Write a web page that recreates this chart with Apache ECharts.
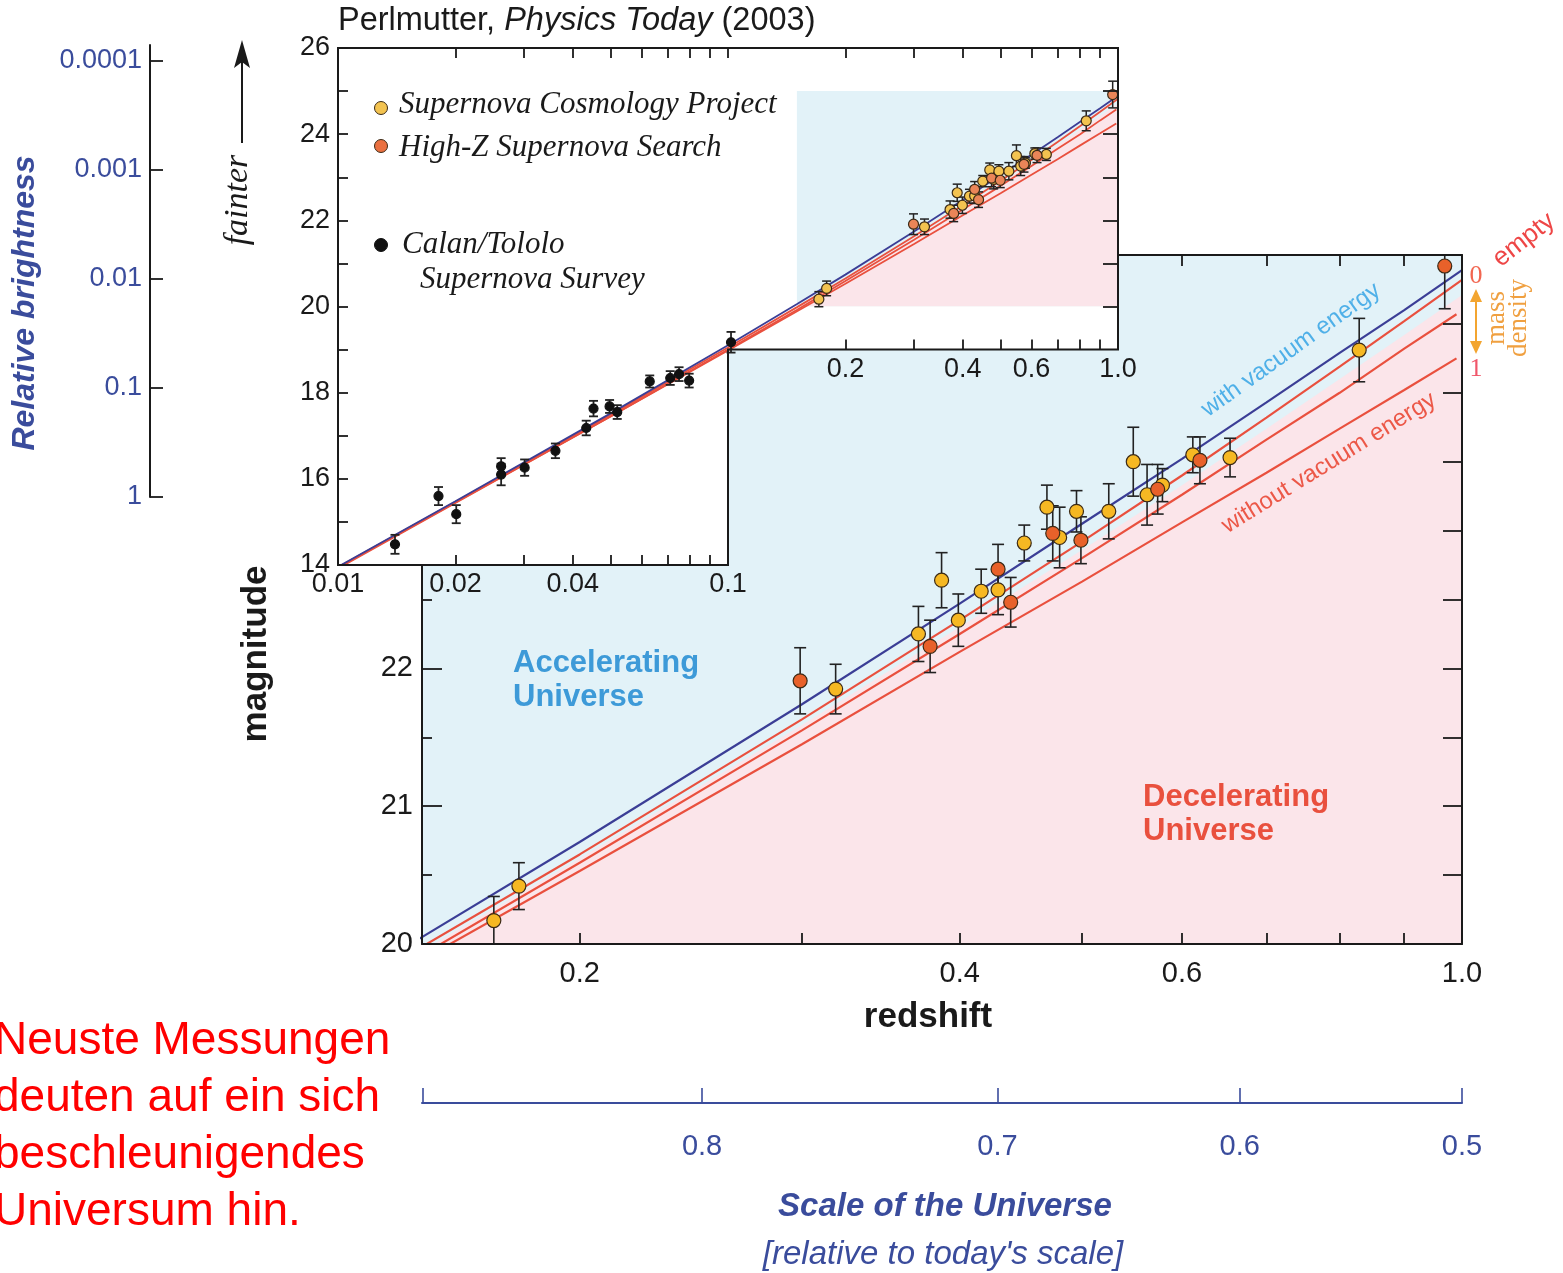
<!DOCTYPE html>
<html><head><meta charset="utf-8">
<script src="https://cdn.jsdelivr.net/npm/echarts@6/dist/echarts.min.js"></script>
<style>html,body{margin:0;padding:0;background:#fff}#c{width:1563px;height:1273px}</style>
</head><body><div id="c"></div>
<script>
// ---------------- data ----------------
const modelZ      = [0.01, 0.02, 0.05, 0.1, 0.15, 0.2, 0.3, 0.4, 0.5, 0.6, 0.7, 0.8, 0.9, 1.0];
const vacuumMag   = [13.96, 15.48, 17.52, 19.10, 20.05, 20.74, 21.74, 22.47, 23.05, 23.52, 23.93, 24.29, 24.60, 24.89];
const emptyMag    = [13.95, 15.47, 17.49, 19.05, 19.98, 20.65, 21.63, 22.35, 22.92, 23.40, 23.82, 24.19, 24.52, 24.82];
const massZ       = [0.01, 0.02, 0.05, 0.1, 0.15, 0.2, 0.3, 0.4, 0.5, 0.6, 0.7, 0.8, 0.9, 0.99];
const lowMassMag  = [13.92, 15.44, 17.45, 19.00, 19.92, 20.59, 21.55, 22.25, 22.80, 23.26, 23.66, 24.00, 24.32, 24.57];
const fullMassMag = [13.94, 15.45, 17.45, 18.98, 19.885, 20.53, 21.45, 22.12, 22.63, 23.06, 23.42, 23.74, 24.02, 24.25];
const boundaryZ   = [0.15, 0.2, 0.3, 0.4, 0.5, 0.6, 0.7, 0.8, 0.9, 1.0];
const boundaryMag = [19.95, 20.62, 21.59, 22.30, 22.86, 23.33, 23.74, 24.10, 24.42, 24.71];

const scpZ   = [0.171, 0.179, 0.319, 0.371, 0.387, 0.399, 0.416, 0.429, 0.450, 0.469, 0.480, 0.495, 0.525, 0.549, 0.563, 0.579, 0.612, 0.655, 0.829];
const scpMag = [20.17, 20.42, 21.85, 22.25, 22.64, 22.35, 22.56, 22.57, 22.91, 23.17, 22.95, 23.14, 23.14, 23.50, 23.26, 23.33, 23.55, 23.53, 24.31];
const scpErr = [0.175, 0.17, 0.18, 0.20, 0.20, 0.19, 0.16, 0.18, 0.13, 0.16, 0.22, 0.15, 0.20, 0.25, 0.22, 0.12, 0.13, 0.14, 0.23];
const hzZ    = [0.299, 0.379, 0.429, 0.439, 0.474, 0.499, 0.574, 0.620, 0.969];
const hzMag  = [21.91, 22.16, 22.72, 22.48, 22.98, 22.93, 23.30, 23.51, 24.92];
const hzErr  = [0.24, 0.19, 0.18, 0.18, 0.20, 0.17, 0.18, 0.17, 0.31];
const ctZ    = [0.0140, 0.0181, 0.0201, 0.0262, 0.0262, 0.0301, 0.0361, 0.0433, 0.0452, 0.0497, 0.0520, 0.0630, 0.0711, 0.0749, 0.0795, 0.1018];
const ctMag  = [14.48, 15.60, 15.18, 16.29, 16.10, 16.26, 16.65, 17.18, 17.63, 17.68, 17.55, 18.26, 18.34, 18.43, 18.28, 19.17];
const ctErr  = [0.22, 0.21, 0.21, 0.19, 0.25, 0.19, 0.17, 0.17, 0.18, 0.15, 0.16, 0.14, 0.16, 0.16, 0.16, 0.24];

const mainZTicks      = [0.2, 0.3, 0.4, 0.5, 0.6, 0.7, 0.8, 0.9, 1.0];
const mainZLabels     = ['0.2', '0.4', '0.6', '1.0'];
const insetLowTicks   = [0.02, 0.03, 0.04, 0.05, 0.06, 0.07, 0.08, 0.09];
const insetLowLabels  = ['0.01', '0.02', '0.04', '0.1'];
const insetHighTicks  = [0.2, 0.3, 0.4, 0.5, 0.6, 0.7, 0.8, 0.9];
const insetHighLabels = ['0.2', '0.4', '0.6', '1.0'];
const insetRightTicks = [20, 21, 22, 23, 24, 25];
const scaleFactorLabels = ['0.8', '0.7', '0.6', '0.5'];
const brightnessLabels  = ['0.0001', '0.001', '0.01', '0.1', '1'];

// ---------------- style / layout ----------------
const SANS = "'Liberation Sans', Arial, Helvetica, sans-serif";
const SERIF = "'Liberation Serif', 'Times New Roman', Times, serif";
const INK = '#1a1a1a';
const SKY = '#e2f2f8', PINK = '#fbe5ea';
const NAVY = '#3b3e96', RED = '#e9503e';
const AXBLUE = '#3a4c9c';
const MAIN = {left: 422, top: 255, width: 1040, height: 689, zMin: 0.15, zMax: 1, mMin: 20, mMax: 25};
const INS = {left: 338, top: 48, width: 780, height: 517, zMin: 0.01, zMax: 1, mMin: 14, mMax: 26, notchZ: 0.1, notchMag: 19};
const notchOffset = -(INS.notchMag - INS.mMin) / (INS.mMax - INS.mMin) * INS.height;

function labelFmt(labels) {
  const vals = labels.map(Number);
  return v => {
    for (let i = 0; i < vals.length; i++) if (Math.abs(Math.log(v / vals[i])) < 1e-6) return labels[i];
    return '';
  };
}
const zip3 = (a, b, c) => a.map((v, i) => [v, b[i], c[i]]);
const zip2 = (a, b) => a.map((v, i) => [v, b[i]]);

function errRender(cap, color, lw) {
  return function (params, api) {
    const z = api.value(0), m = api.value(1), e = api.value(2);
    const lo = api.coord([z, m - e]), hi = api.coord([z, m + e]);
    const st = {stroke: color, lineWidth: lw};
    return {type: 'group', children: [
      {type: 'line', shape: {x1: lo[0], y1: lo[1], x2: hi[0], y2: hi[1]}, style: st},
      {type: 'line', shape: {x1: lo[0] - cap, y1: lo[1], x2: lo[0] + cap, y2: lo[1]}, style: st},
      {type: 'line', shape: {x1: hi[0] - cap, y1: hi[1], x2: hi[0] + cap, y2: hi[1]}, style: st}
    ]};
  };
}
function shadePoly(api) {
  const pts = boundaryZ.map((z, i) => api.coord([z, boundaryMag[i]]));
  pts.push(api.coord([MAIN.zMax, MAIN.mMin]), api.coord([MAIN.zMin, MAIN.mMin]));
  return pts;
}

const scaleZ = scaleFactorLabels.map(a => 1 / Number(a) - 1);
const tickLS = {color: INK, width: 1.8};
const noSplit = {show: false};

// ---------------- axes ----------------
const xAxes = [
  { // 0 main bottom
    type: 'log', logBase: 10, gridIndex: 0, position: 'bottom', min: MAIN.zMin, max: MAIN.zMax, z: 4,
    axisLine: {show: true, lineStyle: {color: INK, width: 2}},
    axisTick: {show: true, inside: true, length: 11, customValues: mainZTicks, lineStyle: tickLS},
    axisLabel: {show: true, customValues: mainZLabels.map(Number), formatter: labelFmt(mainZLabels),
      fontSize: 29, fontFamily: SANS, color: INK, margin: 15},
    splitLine: noSplit, minorTick: {show: false}
  },
  { // 1 main top
    type: 'log', logBase: 10, gridIndex: 0, position: 'top', min: MAIN.zMin, max: MAIN.zMax, z: 4,
    axisLine: {show: true, lineStyle: {color: INK, width: 2}},
    axisTick: {show: true, inside: true, length: 11, customValues: mainZTicks, lineStyle: tickLS},
    axisLabel: {show: false}, splitLine: noSplit
  },
  { // 2 scale of the universe
    type: 'log', logBase: 10, gridIndex: 0, position: 'bottom', offset: 159, min: MAIN.zMin, max: MAIN.zMax, z: 4,
    axisLine: {show: true, lineStyle: {color: AXBLUE, width: 2}},
    axisTick: {show: true, inside: true, length: 15, customValues: [0.1502].concat(scaleZ), lineStyle: {color: AXBLUE, width: 1.6}},
    axisLabel: {show: true, customValues: scaleZ, formatter: v => (1 / (1 + v)).toFixed(1),
      fontSize: 29, fontFamily: SANS, color: AXBLUE, margin: 29},
    splitLine: noSplit
  },
  { // 3 inset bottom
    type: 'log', logBase: 10, gridIndex: 1, position: 'bottom', min: INS.zMin, max: INS.zMax, z: 12,
    axisLine: {show: false},
    axisTick: {show: true, inside: true, length: 10, customValues: insetLowTicks, lineStyle: tickLS},
    axisLabel: {show: true, customValues: insetLowLabels.map(Number), formatter: labelFmt(insetLowLabels),
      fontSize: 27, fontFamily: SANS, color: INK, margin: 6},
    splitLine: noSplit
  },
  { // 4 inset notch axis
    type: 'log', logBase: 10, gridIndex: 1, position: 'bottom', offset: notchOffset, min: INS.zMin, max: INS.zMax, z: 12,
    axisLine: {show: false},
    axisTick: {show: true, inside: true, length: 10, customValues: insetHighTicks, lineStyle: tickLS},
    axisLabel: {show: true, customValues: insetHighLabels.map(Number), formatter: labelFmt(insetHighLabels),
      fontSize: 27, fontFamily: SANS, color: INK, margin: 6},
    splitLine: noSplit
  },
  { // 5 inset top
    type: 'log', logBase: 10, gridIndex: 1, position: 'top', min: INS.zMin, max: INS.zMax, z: 12,
    axisLine: {show: false},
    axisTick: {show: true, inside: true, length: 10, customValues: insetLowTicks.concat([0.1], insetHighTicks), lineStyle: tickLS},
    axisLabel: {show: false}, splitLine: noSplit
  },
  { // 6 dummy for brightness grid
    type: 'value', gridIndex: 2, show: false, min: 0, max: 1
  }
];
const yAxes = [
  { // 0 main left
    type: 'value', gridIndex: 0, position: 'left', min: MAIN.mMin, max: MAIN.mMax, interval: 1, z: 4,
    axisLine: {show: true, lineStyle: {color: INK, width: 2}},
    axisTick: {show: true, inside: true, length: 20, lineStyle: tickLS},
    minorTick: {show: true, splitNumber: 2, length: 10, lineStyle: tickLS},
    axisLabel: {show: true, fontSize: 29, fontFamily: SANS, color: INK, margin: 9},
    splitLine: noSplit, minorSplitLine: noSplit
  },
  { // 1 main right
    type: 'value', gridIndex: 0, position: 'right', min: MAIN.mMin, max: MAIN.mMax, interval: 0.5, z: 4,
    axisLine: {show: true, lineStyle: {color: INK, width: 2}},
    axisTick: {show: true, inside: true, length: 19, lineStyle: tickLS},
    axisLabel: {show: false}, splitLine: noSplit
  },
  { // 2 inset left
    type: 'value', gridIndex: 1, position: 'left', min: INS.mMin, max: INS.mMax, interval: 2, z: 12,
    axisLine: {show: false},
    axisTick: {show: true, inside: true, length: 10, lineStyle: tickLS},
    minorTick: {show: true, splitNumber: 2, length: 10, lineStyle: tickLS},
    axisLabel: {show: true, fontSize: 27, fontFamily: SANS, color: INK, margin: 8},
    splitLine: noSplit, minorSplitLine: noSplit
  },
  { // 3 inset right
    type: 'value', gridIndex: 1, position: 'right', min: INS.mMin, max: INS.mMax, z: 12,
    axisLine: {show: false},
    axisTick: {show: true, inside: true, length: 15, customValues: insetRightTicks, lineStyle: tickLS},
    axisLabel: {show: false}, splitLine: noSplit
  },
  { // 4 relative brightness
    type: 'log', logBase: 10, gridIndex: 2, position: 'left', inverse: true, min: 0.0000713, max: 1, z: 4,
    axisLine: {show: true, lineStyle: {color: INK, width: 2}},
    axisTick: {show: true, inside: true, length: 13, customValues: brightnessLabels.map(Number), lineStyle: tickLS},
    axisLabel: {show: true, customValues: brightnessLabels.map(Number), formatter: labelFmt(brightnessLabels),
      fontSize: 27, fontFamily: SANS, color: AXBLUE, margin: 8},
    splitLine: noSplit, minorTick: {show: false}
  }
];

// ---------------- series ----------------
function lineSeries(xi, yi, z, xs, ys, color, w) {
  return {type: 'line', xAxisIndex: xi, yAxisIndex: yi, z: z, data: zip2(xs, ys), symbol: 'none',
    clip: true, silent: true, lineStyle: {color: color, width: w}, animation: false};
}
function scatter(xi, yi, z, xs, ys, size, color, border) {
  return {type: 'scatter', xAxisIndex: xi, yAxisIndex: yi, z: z, data: zip2(xs, ys), symbol: 'circle', symbolSize: size,
    clip: true, silent: true, itemStyle: {color: color, borderColor: border, borderWidth: 1.2, opacity: 1}};
}
function errSeries(xi, yi, z, xs, ys, es, cap, lw) {
  return {type: 'custom', xAxisIndex: xi, yAxisIndex: yi, z: z, clip: true, silent: true,
    data: zip3(xs, ys, es), encode: {x: 0, y: 1}, renderItem: errRender(cap, '#222', lw)};
}

const series = [
  // main plot
  {type: 'custom', xAxisIndex: 0, yAxisIndex: 0, z: 1, clip: true, silent: true, data: [[0.5, 22]],
    renderItem: (p, api) => ({type: 'polygon', shape: {points: shadePoly(api)}, style: {fill: PINK}})},
  lineSeries(0, 0, 2, massZ, fullMassMag, RED, 2.2),
  lineSeries(0, 0, 2, massZ, lowMassMag, RED, 2.2),
  lineSeries(0, 0, 2, modelZ, emptyMag, RED, 2.2),
  lineSeries(0, 0, 2, modelZ, vacuumMag, NAVY, 2.2),
  errSeries(0, 0, 3, scpZ, scpMag, scpErr, 6, 1.6),
  errSeries(0, 0, 3, hzZ, hzMag, hzErr, 6, 1.6),
  scatter(0, 0, 3, scpZ, scpMag, 14, '#f6b823', '#3b2a16'),
  scatter(0, 0, 3, hzZ, hzMag, 14, '#e8612a', '#3b2a16'),
  // inset white background
  {type: 'custom', xAxisIndex: 3, yAxisIndex: 2, z: 5, silent: true, data: [[0.1, 20]],
    renderItem: (p, api) => ({type: 'polygon', shape: {points: [
      api.coord([INS.zMin, INS.mMax]), api.coord([INS.zMax, INS.mMax]), api.coord([INS.zMax, INS.notchMag]),
      api.coord([INS.notchZ, INS.notchMag]), api.coord([INS.notchZ, INS.mMin]), api.coord([INS.zMin, INS.mMin])]},
      style: {fill: '#ffffff'}})},
  // inset shading (main plot range)
  {type: 'custom', xAxisIndex: 3, yAxisIndex: 2, z: 6, silent: true, data: [[0.5, 22]],
    renderItem: (p, api) => {
      const a = api.coord([MAIN.zMin, MAIN.mMax]), b = api.coord([MAIN.zMax, MAIN.mMin]);
      return {type: 'group', clipPath: {type: 'rect', shape: {x: a[0], y: a[1], width: b[0] - a[0], height: b[1] - a[1]}},
        children: [
          {type: 'rect', shape: {x: a[0], y: a[1], width: b[0] - a[0], height: b[1] - a[1]}, style: {fill: SKY}},
          {type: 'polygon', shape: {points: shadePoly(api)}, style: {fill: PINK}}
        ]};
    }},
  lineSeries(3, 2, 7, massZ, fullMassMag, RED, 1.8),
  lineSeries(3, 2, 7, massZ, lowMassMag, RED, 1.8),
  lineSeries(3, 2, 7, modelZ, emptyMag, RED, 1.8),
  lineSeries(3, 2, 7, modelZ, vacuumMag, NAVY, 1.8),
  errSeries(3, 2, 8, ctZ, ctMag, ctErr, 4.5, 1.8),
  errSeries(3, 2, 8, scpZ, scpMag, scpErr, 4.5, 1.5),
  errSeries(3, 2, 8, hzZ, hzMag, hzErr, 4.5, 1.5),
  scatter(3, 2, 9, ctZ, ctMag, 9, '#111111', '#111111'),
  scatter(3, 2, 9, scpZ, scpMag, 10, '#f3c350', '#3b2a16'),
  scatter(3, 2, 9, hzZ, hzMag, 10, '#ea8558', '#3b2a16'),
  // inset frame
  {type: 'custom', xAxisIndex: 3, yAxisIndex: 2, z: 11, silent: true, data: [[0.1, 20]],
    renderItem: (p, api) => ({type: 'polygon', shape: {points: [
      api.coord([INS.zMin, INS.mMax]), api.coord([INS.zMax, INS.mMax]), api.coord([INS.zMax, INS.notchMag]),
      api.coord([INS.notchZ, INS.notchMag]), api.coord([INS.notchZ, INS.mMin]), api.coord([INS.zMin, INS.mMin])]},
      style: {fill: 'none', stroke: INK, lineWidth: 2}})}
];

// ---------------- text / decorations ----------------
const deg = Math.PI / 180;
function txt(x, y, text, o) {
  return Object.assign({type: 'text', x: x, y: y, z: 100, silent: true,
    style: Object.assign({text: text, fill: INK, fontFamily: SANS, fontSize: 28, textAlign: 'left', textVerticalAlign: 'middle'}, o.style || {})},
    o.rotation !== undefined ? {rotation: o.rotation} : {});
}
const graphics = [
  txt(338, 21, '{a|Perlmutter, }{b|Physics Today}{a| (2003)}', {style: {rich: {
    a: {fontSize: 32.5, fontFamily: SANS, fill: INK}, b: {fontSize: 32.5, fontFamily: SANS, fontStyle: 'italic', fill: INK}}}}),
  // legend
  {type: 'circle', z: 100, shape: {cx: 381, cy: 108, r: 6.5}, style: {fill: '#f3c350', stroke: '#3b2a16', lineWidth: 1}},
  {type: 'circle', z: 100, shape: {cx: 381, cy: 146, r: 6.5}, style: {fill: '#ea7040', stroke: '#3b2a16', lineWidth: 1}},
  {type: 'circle', z: 100, shape: {cx: 381, cy: 245, r: 6.5}, style: {fill: '#111', stroke: '#111', lineWidth: 1}},
  txt(399, 105, 'Supernova Cosmology Project', {style: {fontFamily: SERIF, fontStyle: 'italic', fontSize: 31}}),
  txt(399, 148, 'High-Z Supernova Search', {style: {fontFamily: SERIF, fontStyle: 'italic', fontSize: 31}}),
  txt(402, 245, 'Calan/Tololo', {style: {fontFamily: SERIF, fontStyle: 'italic', fontSize: 31}}),
  txt(420, 280, 'Supernova Survey', {style: {fontFamily: SERIF, fontStyle: 'italic', fontSize: 31}}),
  // fainter arrow
  {type: 'line', z: 100, shape: {x1: 242, y1: 143, x2: 242, y2: 60}, style: {stroke: INK, lineWidth: 2}},
  {type: 'polygon', z: 100, shape: {points: [[242, 40], [234, 68], [242, 62], [250, 68]]}, style: {fill: INK}},
  txt(238, 200, 'fainter', {rotation: 90 * deg, style: {fontFamily: SERIF, fontStyle: 'italic', fontSize: 34, textAlign: 'center'}}),
  // axis titles
  txt(25, 303, 'Relative brightness', {rotation: 90 * deg, style: {fontWeight: 'bold', fontStyle: 'italic', fontSize: 32, fill: AXBLUE, textAlign: 'center'}}),
  txt(256, 654, 'magnitude', {rotation: 90 * deg, style: {fontWeight: 'bold', fontSize: 35, textAlign: 'center'}}),
  txt(928, 1017, 'redshift', {style: {fontWeight: 'bold', fontSize: 35, textAlign: 'center'}}),
  // region labels
  txt(513, 680, 'Accelerating\nUniverse', {style: {fontWeight: 'bold', fontSize: 31, fill: '#3d9ad8', lineHeight: 34}}),
  txt(1143, 814, 'Decelerating\nUniverse', {style: {fontWeight: 'bold', fontSize: 31, fill: '#e9503e', lineHeight: 34}}),
  txt(1291, 350, 'with vacuum energy', {rotation: 35.5 * deg, style: {fontSize: 24, fill: '#4fb0e8', textAlign: 'center'}}),
  txt(1329, 463, 'without vacuum energy', {rotation: 31.7 * deg, style: {fontSize: 24, fill: '#ec5848', textAlign: 'center'}}),
  // mass density annotation
  txt(1476, 276, '0', {style: {fontFamily: SERIF, fontSize: 26, fill: '#f26650', textAlign: 'center'}}),
  txt(1476, 369, '1', {style: {fontFamily: SERIF, fontSize: 26, fill: '#f0566a', textAlign: 'center'}}),
  txt(1524, 240, 'empty', {rotation: 38 * deg, style: {fontSize: 26, fill: '#ee4646', textAlign: 'center'}}),
  txt(1508, 318, 'mass\ndensity', {rotation: 90 * deg, style: {fontFamily: SERIF, fontSize: 27, fill: '#f0a040', textAlign: 'center', lineHeight: 22}}),
  {type: 'line', z: 100, shape: {x1: 1476, y1: 296, x2: 1476, y2: 346}, style: {stroke: '#f3a530', lineWidth: 2}},
  {type: 'polygon', z: 100, shape: {points: [[1476, 289], [1470, 302], [1482, 302]]}, style: {fill: '#f3a530'}},
  {type: 'polygon', z: 100, shape: {points: [[1476, 354], [1470, 341], [1482, 341]]}, style: {fill: '#f3a530'}},
  // scale titles
  txt(945, 1207, 'Scale of the Universe', {style: {fontWeight: 'bold', fontStyle: 'italic', fontSize: 33, fill: AXBLUE, textAlign: 'center'}}),
  txt(943, 1255, "[relative to today's scale]", {style: {fontStyle: 'italic', fontSize: 33, fill: AXBLUE, textAlign: 'center'}}),
  // German note
  {type: 'text', x: -6, y: 1013, z: 100, silent: true, style: {
    text: 'Neuste Messungen\ndeuten auf ein sich\nbeschleunigendes\nUniversum hin.',
    fill: '#ff0000', fontFamily: SANS, fontSize: 46, lineHeight: 57, textAlign: 'left', textVerticalAlign: 'top'}}
];

const chart = echarts.init(document.getElementById('c'), null, {renderer: 'canvas'});
chart.setOption({
  animation: false,
  backgroundColor: '#ffffff',
  grid: [
    {left: MAIN.left, top: MAIN.top, width: MAIN.width, height: MAIN.height, show: true, backgroundColor: SKY, borderWidth: 0, containLabel: false, outerBoundsMode: 'none'},
    {left: INS.left, top: INS.top, width: INS.width, height: INS.height, show: false, containLabel: false, outerBoundsMode: 'none'},
    {left: 150, top: 45, width: 1, height: 452, show: false, containLabel: false, outerBoundsMode: 'none'}
  ],
  xAxis: xAxes,
  yAxis: yAxes,
  series: series,
  graphic: {elements: graphics}
});
</script>
</body></html>
